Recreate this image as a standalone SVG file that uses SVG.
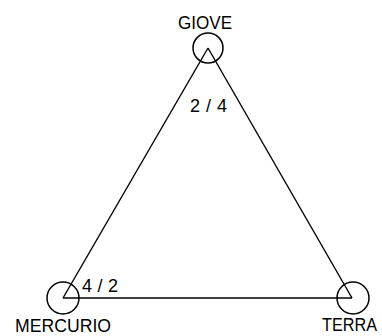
<svg xmlns="http://www.w3.org/2000/svg" width="382" height="336" viewBox="0 0 382 336">
<style>
.bg{fill:#ffffff}
.edge{stroke:#000;stroke-width:1.4;fill:none}
.node{stroke:#000;stroke-width:1.5;fill:none}
.t{font-family:"Liberation Sans",Arial,sans-serif;font-size:18px;fill:#000}
</style>
<rect class="bg" x="0" y="0" width="382" height="336"/>
<g id="connectors">
<line class="edge" x1="208" y1="48" x2="63" y2="298"/>
<line class="edge" x1="208" y1="48" x2="352" y2="298"/>
<line class="edge" x1="63" y1="298" x2="352" y2="298"/>
<text class="t" x="190" y="112" textLength="37" lengthAdjust="spacing">2/4</text>
<text class="t" x="82" y="292" textLength="36" lengthAdjust="spacing">4/2</text>
</g>
<g id="giove">
<circle class="node" cx="208" cy="48" r="15"/>
<text class="t" x="178" y="29" textLength="54" lengthAdjust="spacingAndGlyphs">GIOVE</text>
</g>
<g id="mercurio">
<circle class="node" cx="63" cy="298" r="16"/>
<text class="t" x="15" y="332" textLength="96" lengthAdjust="spacingAndGlyphs">MERCURIO</text>
</g>
<g id="terra">
<circle class="node" cx="353" cy="298" r="16"/>
<text class="t" x="322" y="331" textLength="55" lengthAdjust="spacingAndGlyphs">TERRA</text>
</g>
</svg>
